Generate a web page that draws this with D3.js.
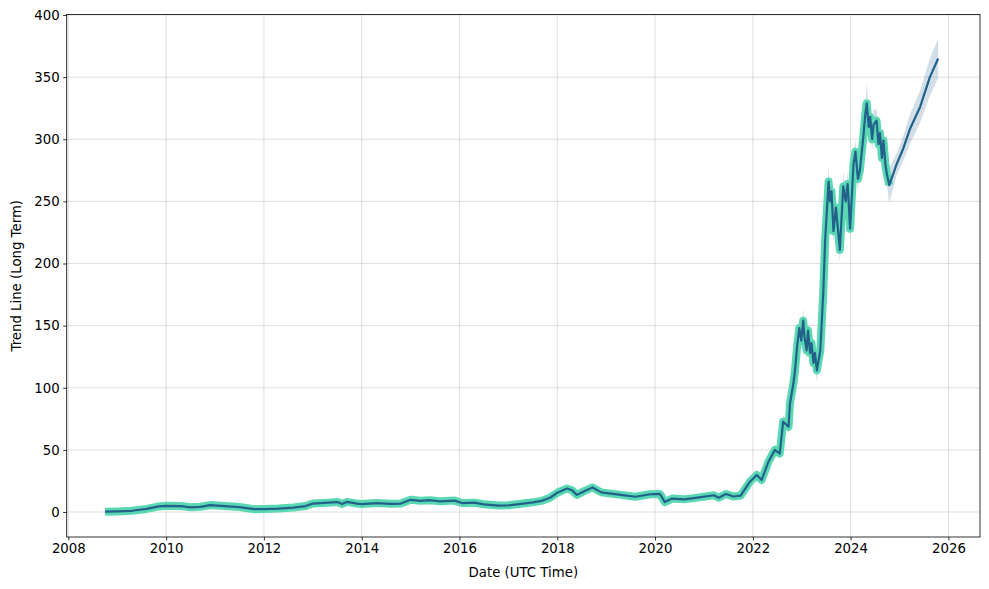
<!DOCTYPE html>
<html>
<head>
<meta charset="utf-8">
<script src="https://cdn.jsdelivr.net/npm/d3@7"></script>
<style>
  body { margin: 0; background: #fff; }
  text { font-family: "DejaVu Sans", sans-serif; }
</style>
</head>
<body>
<div id="vis"></div>
<script>
// Declare constants for frame
const FRAME_WIDTH = 989;
const FRAME_HEIGHT = 589;
const MARGINS = {left: 66.7, right: 9, top: 14.5, bottom: 52};

const VIS_WIDTH = FRAME_WIDTH - MARGINS.left - MARGINS.right;
const VIS_HEIGHT = FRAME_HEIGHT - MARGINS.top - MARGINS.bottom;

// history (decimal years) and values
const HIST_DATES = [2008.75, 2009.0, 2009.3, 2009.6, 2009.85, 2010.0, 2010.3, 2010.5, 2010.7, 2010.9,
  2011.2, 2011.5, 2011.8, 2012.0, 2012.3, 2012.6, 2012.85, 2013.0, 2013.3, 2013.5,
  2013.6, 2013.7, 2013.9, 2014.0, 2014.3, 2014.6, 2014.8, 2015.0, 2015.2, 2015.4,
  2015.6, 2015.9, 2016.05, 2016.3, 2016.5, 2016.8, 2017.0, 2017.3, 2017.5, 2017.7,
  2017.85, 2018.0, 2018.2, 2018.3, 2018.4, 2018.55, 2018.72, 2018.9, 2019.1, 2019.3,
  2019.6, 2019.9, 2020.1, 2020.2, 2020.35, 2020.6, 2020.9, 2021.2, 2021.3, 2021.45,
  2021.6, 2021.75, 2021.94, 2022.08, 2022.18, 2022.32, 2022.45, 2022.55, 2022.62, 2022.73,
  2022.76, 2022.83, 2022.86, 2022.91, 2022.95, 2022.99, 2023.03, 2023.06, 2023.10, 2023.13,
  2023.17, 2023.20, 2023.24, 2023.27, 2023.31, 2023.38, 2023.44, 2023.48, 2023.55, 2023.58,
  2023.61, 2023.65, 2023.70, 2023.74, 2023.78, 2023.82, 2023.85, 2023.90, 2023.94, 2023.99,
  2024.06, 2024.10, 2024.15, 2024.19, 2024.26, 2024.30, 2024.33, 2024.37, 2024.40, 2024.44,
  2024.47, 2024.53, 2024.57, 2024.60, 2024.64, 2024.67, 2024.71, 2024.74, 2024.79];
const HIST_VALUES = [0.3, 0.5, 1.0, 2.5, 4.5, 5.0, 4.8, 3.8, 4.2, 5.6,
  4.8, 4.0, 2.3, 2.4, 2.8, 3.6, 4.8, 6.8, 7.5, 8.0,
  6.5, 8.2, 6.8, 6.4, 7.2, 6.6, 6.8, 9.8, 9.0, 9.5,
  8.6, 9.2, 7.2, 7.5, 6.2, 5.2, 5.4, 6.8, 7.8, 9.2,
  11.5, 15.5, 19.0, 17.5, 13.8, 16.8, 19.8, 15.8, 14.8, 13.8,
  12.3, 14.3, 14.6, 8.0, 10.8, 10.2, 11.8, 13.5, 11.5, 14.5,
  12.5, 13.2, 24.4, 29.8, 25.8, 40.5, 50, 47, 72.7, 68.7,
  87.5, 103.6, 113, 135, 148, 138, 154, 140, 130, 146,
  128, 136, 120, 128, 114, 130, 176, 219, 266, 250,
  258, 226, 245, 228, 211, 240, 262, 250, 264, 228,
  280, 290, 268, 275, 302, 320, 329, 310, 318, 300,
  312, 315, 296, 305, 285, 299, 280, 272, 263];
const HIST_SPREAD = [1.5, 1.5, 1.5, 1.5, 1.5, 1.5, 1.5, 1.5, 1.5, 1.5,
  1.5, 1.5, 1.5, 1.5, 1.5, 1.5, 1.5, 2, 2, 2,
  2, 2, 2, 2, 2, 2, 2, 2, 2, 2,
  2, 2, 2, 2, 2, 2, 2, 2, 2, 2,
  2, 2.5, 2.5, 2.5, 2.5, 2.5, 2.5, 2.5, 2.5, 2.5,
  2.5, 2.5, 2.5, 2.5, 2.5, 2.5, 2.5, 2.5, 2.5, 2.5,
  2.5, 2.5, 3, 3, 3, 4, 4, 4, 5, 5,
  5, 6, 6, 7, 8, 7, 10, 7, 8, 7,
  7, 7, 8, 7, 9, 8, 8, 8, 12, 8,
  12, 10, 8, 8, 10, 8, 12, 8, 10, 9,
  9, 9, 8, 9, 10, 9, 16, 9, 14, 9,
  12, 9, 12, 9, 10, 9, 8, 9, 14];

// forecast
const FC_DATES = [2024.79, 2024.94, 2025.07, 2025.21, 2025.42, 2025.62, 2025.79];
const FC_VALUES = [263, 280, 292, 308, 326, 350, 365];
const FC_SPREAD = [14, 9, 10, 12, 13, 15, 16];

const X_TICKS = [2008, 2010, 2012, 2014, 2016, 2018, 2020, 2022, 2024, 2026];
const Y_TICKS = [0, 50, 100, 150, 200, 250, 300, 350, 400];

// decimal year -> Date
function toDate(y) {
  const yr = Math.floor(y);
  const start = Date.UTC(yr, 0, 1), end = Date.UTC(yr + 1, 0, 1);
  return new Date(start + (y - yr) * (end - start));
}

const hist = HIST_DATES.map((d, i) => ({date: toDate(d), value: HIST_VALUES[i], spread: HIST_SPREAD[i]}));
const fc = FC_DATES.map((d, i) => ({date: toDate(d), value: FC_VALUES[i], spread: FC_SPREAD[i]}));
const all = hist.concat(fc.slice(1));

const svg = d3.select("#vis")
  .append("svg")
    .attr("width", FRAME_WIDTH)
    .attr("height", FRAME_HEIGHT);

svg.append("rect").attr("width", FRAME_WIDTH).attr("height", FRAME_HEIGHT).attr("fill", "#fff");

const X_SCALE = d3.scaleUtc()
  .domain([toDate(2007.967), toDate(2026.646)])
  .range([0, VIS_WIDTH]);

const Y_SCALE = d3.scaleLinear()
  .domain([-20.1, 400.4])
  .range([VIS_HEIGHT, 0]);

const g = svg.append("g")
  .attr("transform", "translate(" + MARGINS.left + "," + MARGINS.top + ")");

// grid
g.append("g").selectAll("line")
  .data(X_TICKS)
  .enter().append("line")
    .attr("x1", d => X_SCALE(toDate(d))).attr("x2", d => X_SCALE(toDate(d)))
    .attr("y1", 0).attr("y2", VIS_HEIGHT)
    .attr("stroke", "#b0b0b0").attr("stroke-opacity", 0.4).attr("stroke-width", 1);
g.append("g").selectAll("line")
  .data(Y_TICKS)
  .enter().append("line")
    .attr("x1", 0).attr("x2", VIS_WIDTH)
    .attr("y1", d => Y_SCALE(d)).attr("y2", d => Y_SCALE(d))
    .attr("stroke", "#b0b0b0").attr("stroke-opacity", 0.4).attr("stroke-width", 1);

// uncertainty band
const band = d3.area()
  .x(d => X_SCALE(d.date))
  .y0(d => Y_SCALE(d.value - d.spread))
  .y1(d => Y_SCALE(d.value + d.spread));

g.append("path")
  .datum(all)
  .attr("d", band)
  .attr("fill", "#21618a")
  .attr("fill-opacity", 0.2);

const line = d3.line()
  .x(d => X_SCALE(d.date))
  .y(d => Y_SCALE(d.value));

// thick green history line
g.append("path")
  .datum(hist)
  .attr("d", line)
  .attr("fill", "none")
  .attr("stroke", "#5ad7b3")
  .attr("stroke-width", 8)
  .attr("stroke-linejoin", "round");

// dark trend line
g.append("path")
  .datum(all)
  .attr("d", line)
  .attr("fill", "none")
  .attr("stroke", "#21618a")
  .attr("stroke-width", 2.2)
  .attr("stroke-linejoin", "round");

// axes
const xAxis = g.append("g")
  .attr("transform", "translate(0," + VIS_HEIGHT + ")")
  .call(d3.axisBottom(X_SCALE)
    .tickValues(X_TICKS.map(toDate))
    .tickFormat(d3.utcFormat("%Y"))
    .tickSize(3.5).tickPadding(3.5).tickSizeOuter(0));

const yAxis = g.append("g")
  .call(d3.axisLeft(Y_SCALE)
    .tickValues(Y_TICKS)
    .tickSize(3.5).tickPadding(3.5).tickSizeOuter(0));

[xAxis, yAxis].forEach(a => {
  a.select(".domain").remove();
  a.selectAll(".tick line").attr("stroke", "#000").attr("stroke-width", 0.8);
  a.selectAll(".tick text").attr("font-size", "13.3px").attr("fill", "#000")
    .attr("font-family", "DejaVu Sans");
});

// frame
g.append("rect")
  .attr("width", VIS_WIDTH).attr("height", VIS_HEIGHT)
  .attr("fill", "none").attr("stroke", "#000").attr("stroke-width", 0.8);

// labels
svg.append("text")
  .attr("x", MARGINS.left + VIS_WIDTH / 2)
  .attr("y", 577)
  .attr("text-anchor", "middle")
  .attr("font-size", "13.3px")
  .text("Date (UTC Time)");

svg.append("text")
  .attr("transform", "translate(21," + (MARGINS.top + VIS_HEIGHT / 2) + ") rotate(-90)")
  .attr("text-anchor", "middle")
  .attr("font-size", "13.3px")
  .text("Trend Line (Long Term)");
</script>
</body>
</html>
